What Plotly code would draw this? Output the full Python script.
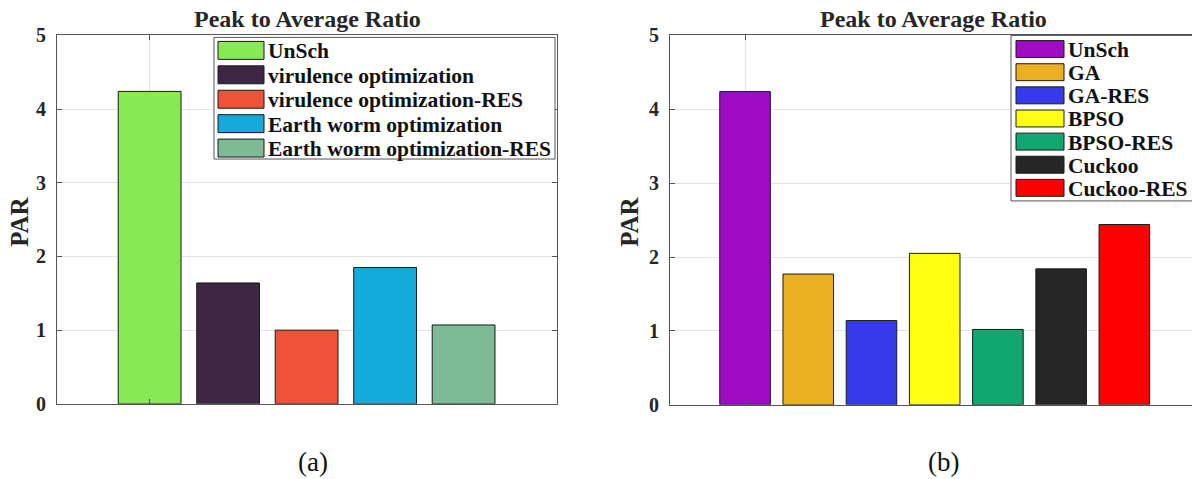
import plotly.graph_objects as go

# ---------------- data ----------------
names_a = ["UnSch", "virulence optimization", "virulence optimization-RES",
           "Earth worm optimization", "Earth worm optimization-RES"]
par_a = [4.24, 1.64, 1.00, 1.85, 1.07]
colors_a = ["#87EA55", "#3E2745", "#F25139", "#15AADC", "#7CBB95"]

names_b = ["UnSch", "GA", "GA-RES", "BPSO", "BPSO-RES", "Cuckoo", "Cuckoo-RES"]
par_b = [4.24, 1.77, 1.14, 2.05, 1.02, 1.84, 2.44]
colors_b = ["#9E0CC4", "#EBAF22", "#353BEB", "#FFFF14", "#10A771", "#262626", "#FF0000"]

y_ticks = [0, 1, 2, 3, 4, 5]

W, H = 1192, 479
FONT = "Liberation Serif, Times New Roman, serif"

# vertical calibration of the photographed page (observed offset / scale)
V_OFF, V_SCALE = 9.5, 0.957


def px(x):
    return x / W


def py(y):
    fy = (y - V_OFF) / V_SCALE
    return 1 - fy / H


fig = go.Figure()
fig.add_trace(go.Bar(x=list(range(1, len(par_a) + 1)), y=par_a, width=0.8,
                     marker=dict(color=colors_a, line=dict(color="#1a1a1a", width=1)),
                     showlegend=False, xaxis="x", yaxis="y"))
fig.add_trace(go.Bar(x=list(range(1, len(par_b) + 1)), y=par_b, width=0.8,
                     marker=dict(color=colors_b, line=dict(color="#1a1a1a", width=1)),
                     showlegend=False, xaxis="x2", yaxis="y2"))

axis_common = dict(showline=True, linecolor="#555555", linewidth=1,
                   ticks="inside", ticklen=5, tickcolor="#555555",
                   showgrid=True, gridcolor="#e3e3e3", gridwidth=1,
                   zeroline=False)

ytick_font = dict(family=FONT, size=20, color="#262626", weight="bold")

fig.update_layout(
    width=W, height=H,
    margin=dict(l=0, r=0, t=0, b=0),
    paper_bgcolor="white", plot_bgcolor="white",
    xaxis=dict(domain=[px(57), px(557)], range=[-0.18, 6.19], tickvals=[1],
               ticktext=[""], mirror="ticks", anchor="y", **axis_common),
    yaxis=dict(domain=[py(403.5), py(34)], range=[0, 5], tickvals=y_ticks,
               tickfont=ytick_font, mirror="ticks", anchor="x",
               ticklabelstandoff=6, **axis_common),
    xaxis2=dict(domain=[px(670), 1.0], range=[-0.187, 8.07], tickvals=[1],
                ticktext=[""], mirror="ticks", anchor="y2", **axis_common),
    yaxis2=dict(domain=[py(404.5), py(34)], range=[0, 5], tickvals=y_ticks,
                tickfont=ytick_font, mirror=False, anchor="x2",
                ticklabelstandoff=6, **axis_common),
)

annotations = []
shapes = []

# Titles
for cx in (307, 934):
    annotations.append(dict(xref="paper", yref="paper", x=px(cx), y=py(18),
                            text="<b>Peak to Average Ratio</b>", showarrow=False,
                            xanchor="center", yanchor="middle",
                            font=dict(family=FONT, size=24, color="#262626")))
# y-axis labels
for cx in (20, 630):
    annotations.append(dict(xref="paper", yref="paper", x=px(cx), y=py(221),
                            text="<b>PAR</b>", showarrow=False, textangle=-90,
                            xanchor="center", yanchor="middle",
                            font=dict(family=FONT, size=25, color="#262626")))
# captions
for cx, t in ((313, "(a)"), (943, "(b)")):
    annotations.append(dict(xref="paper", yref="paper", x=px(cx), y=py(462),
                            text=t, showarrow=False, xanchor="center", yanchor="middle",
                            font=dict(family=FONT, size=27, color="#111111")))


def legend(names, colors, box, sw_x0, sw_x1, first_y, step, sw_h, text_x, fsize):
    bx0, by0, bx1, by1 = box
    shapes.append(dict(type="rect", xref="paper", yref="paper",
                       x0=px(bx0), x1=px(bx1), y0=py(by1), y1=py(by0),
                       fillcolor="white", line=dict(color="#555555", width=1),
                       layer="above"))
    for i, (n, c) in enumerate(zip(names, colors)):
        yc = first_y + i * step
        shapes.append(dict(type="rect", xref="paper", yref="paper",
                           x0=px(sw_x0), x1=px(sw_x1),
                           y0=py(yc + sw_h / 2), y1=py(yc - sw_h / 2),
                           fillcolor=c, line=dict(color="#1a1a1a", width=1),
                           layer="above"))
        annotations.append(dict(xref="paper", yref="paper", x=px(text_x), y=py(yc + 1),
                                text="<b>" + n + "</b>", showarrow=False,
                                xanchor="left", yanchor="middle",
                                font=dict(family=FONT, size=fsize, color="#111111")))


legend(names_a, colors_a, (214, 36, 555, 158), 218, 264, 49, 24.5, 18, 266, 21.5)
legend(names_b, colors_b, (1011, 34, 1200, 200), 1016, 1064, 47.7, 23.2, 17, 1066, 21.5)

fig.update_layout(annotations=annotations, shapes=shapes)

fig.write_html("out.html",
               config={"displayModeBar": False},
               post_script="document.body.style.margin='0';"
                           "document.body.style.padding='0';"
                           "document.documentElement.style.overflow='hidden';"
                           "document.body.style.overflow='hidden';")
